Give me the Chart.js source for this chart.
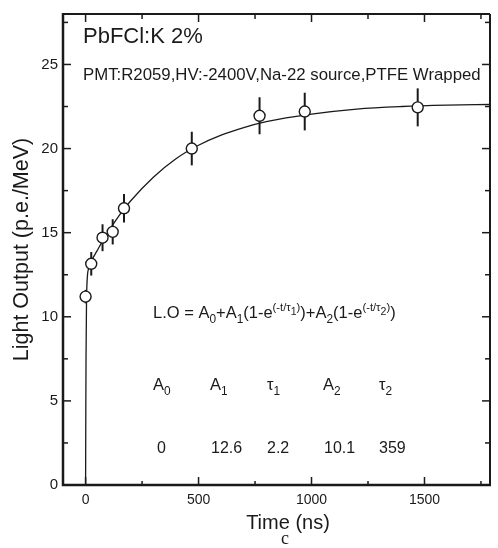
<!DOCTYPE html>
<html>
<head>
<meta charset="utf-8">
<script src="https://cdn.jsdelivr.net/npm/chart.js@4/dist/chart.umd.min.js"></script>
<style>
  html, body { margin: 0; padding: 0; background: #fff; }
  #wrap { width: 498px; height: 548px; }
</style>
</head>
<body>
<div id="wrap"><canvas id="lightOutputChart"></canvas></div>
<script>
// Measured points (time in ns, light output in p.e./MeV, vertical error)
const pointTimes = [0, 25, 75, 120, 170, 470, 770, 970, 1470];
const pointOutput = [11.2, 13.15, 14.7, 15.05, 16.45, 20.0, 21.95, 22.2, 22.45];
const pointErrors = [0.4, 0.7, 0.8, 0.75, 0.85, 1.0, 1.1, 1.12, 1.13];

// Fit curve
const curveTimes = [0, 1, 2, 4, 8, 15, 25, 50, 75, 100, 150, 200, 300, 400, 500, 600, 700, 800, 1000, 1200, 1400, 1600, 1790];
const curveOutput = [0, 4.5, 7.7, 10.8, 12.4, 12.9, 13.3, 13.9, 14.5, 15.05, 16.05, 16.9, 18.3, 19.4, 20.2, 20.8, 21.25, 21.6, 22.05, 22.35, 22.5, 22.58, 22.62];

// Tick labels
const xMajorTicks = [0, 500, 1000, 1500];
const xMinorTicks = [250, 750, 1250, 1750];
const yMajorTicks = [0, 5, 10, 15, 20, 25];
const yMinorTicks = [2.5, 7.5, 12.5, 17.5, 22.5, 27.5];

// Fit parameters shown in the plot
const paramNames = [['A', '0'], ['A', '1'], ['\u03c4', '1'], ['A', '2'], ['\u03c4', '2']];
const paramValues = ['0', '12.6', '2.2', '10.1', '359'];

const plotFont = '"Liberation Sans", Arial, Helvetica, sans-serif';
const ink = '#1a1a1a';

function drawRich(ctx, x, y, parts, size) {
    parts.forEach(([txt, kind]) => {
        let s = size, dy = 0;
        if (kind === 'sub') { s = size * 0.72; dy = size * 0.3; }
        if (kind === 'sup') { s = size * 0.68; dy = -size * 0.42; }
        if (kind === 'supsub') { s = size * 0.64; dy = -size * 0.2; }
        ctx.font = `${s}px ${plotFont}`;
        ctx.fillText(txt, x, y + dy);
        x += ctx.measureText(txt).width;
    });
}

const decorPlugin = {
    id: 'decor',
    beforeDatasetDraw(chart, args) {
        if (args.index !== 0) return;
        const ctx = chart.ctx;
        const xs = chart.scales.x, ys = chart.scales.y;
        ctx.save();
        ctx.strokeStyle = ink;
        ctx.lineWidth = 2;
        pointTimes.forEach((t, i) => {
            const px = xs.getPixelForValue(t);
            ctx.beginPath();
            ctx.moveTo(px, ys.getPixelForValue(pointOutput[i] - pointErrors[i]));
            ctx.lineTo(px, ys.getPixelForValue(pointOutput[i] + pointErrors[i]));
            ctx.stroke();
        });
        ctx.restore();
    },
    afterDraw(chart) {
        const ctx = chart.ctx;
        const {left, right, top, bottom} = chart.chartArea;
        const xs = chart.scales.x, ys = chart.scales.y;
        ctx.save();
        ctx.strokeStyle = ink;

        // frame
        ctx.lineWidth = 2;
        ctx.beginPath();
        ctx.moveTo(left, top); ctx.lineTo(right, top);
        ctx.moveTo(right, top); ctx.lineTo(right, bottom);
        ctx.stroke();
        ctx.lineWidth = 2.5;
        ctx.beginPath();
        ctx.moveTo(left, top - 1); ctx.lineTo(left, bottom);
        ctx.lineTo(right + 1, bottom);
        ctx.stroke();

        // inward ticks
        ctx.lineWidth = 1.5;
        const tick = (x1, y1, x2, y2) => { ctx.beginPath(); ctx.moveTo(x1, y1); ctx.lineTo(x2, y2); ctx.stroke(); };
        xMajorTicks.forEach(v => { const p = xs.getPixelForValue(v); tick(p, bottom, p, bottom - 8); tick(p, top, p, top + 8); });
        xMinorTicks.forEach(v => { const p = xs.getPixelForValue(v); tick(p, bottom, p, bottom - 4); tick(p, top, p, top + 5); });
        yMajorTicks.forEach(v => { const p = ys.getPixelForValue(v); tick(left, p, left + 8, p); tick(right, p, right - 8, p); });
        yMinorTicks.forEach(v => { const p = ys.getPixelForValue(v); tick(left, p, left + 5, p); tick(right, p, right - 5, p); });

        // texts
        ctx.fillStyle = ink;
        ctx.textAlign = 'left';
        ctx.textBaseline = 'alphabetic';
        ctx.font = `22px ${plotFont}`;
        ctx.fillText('PbFCl:K 2%', 83, 43);
        ctx.font = `16.8px ${plotFont}`;
        ctx.fillText('PMT:R2059,HV:-2400V,Na-22 source,PTFE Wrapped', 83, 80);

        drawRich(ctx, 153, 318, [
            ['L.O = A', ''], ['0', 'sub'], ['+A', ''], ['1', 'sub'], ['(1-e', ''],
            ['(-t/\u03c4', 'sup'], ['1', 'supsub'], [')', 'sup'], [')+A', ''], ['2', 'sub'],
            ['(1-e', ''], ['(-t/\u03c4', 'sup'], ['2', 'supsub'], [')', 'sup'], [')', '']
        ], 16.5);

        const colX = [153, 210, 267, 323, 379];
        paramNames.forEach(([sym, idx], i) => {
            drawRich(ctx, colX[i], 390, [[sym, ''], [idx, 'sub']], 16.5);
        });
        ctx.font = `16px ${plotFont}`;
        const valX = [157, 211, 267, 324, 379];
        paramValues.forEach((v, i) => ctx.fillText(v, valX[i], 453));

        ctx.textAlign = 'center';
        ctx.textBaseline = 'middle';
        ctx.font = `20px ${plotFont}`;
        ctx.fillText('Time (ns)', 288, 523);
        ctx.font = `18px "Liberation Serif", "Times New Roman", serif`;
        ctx.fillText('c', 285, 539);
        ctx.restore();
    }
};

new Chart(document.getElementById('lightOutputChart'), {
    type: 'scatter',
    data: {
        datasets: [{
            label: 'Measured',
            data: pointTimes.map((t, i) => ({x: t, y: pointOutput[i]})),
            pointStyle: 'circle',
            pointRadius: 5.5,
            pointBackgroundColor: '#fff',
            pointBorderColor: ink,
            pointBorderWidth: 1.4,
            showLine: false,
        }, {
            label: 'Fit',
            data: curveTimes.map((t, i) => ({x: t, y: curveOutput[i]})),
            showLine: true,
            borderColor: ink,
            borderWidth: 1.3,
            pointRadius: 0,
            cubicInterpolationMode: 'monotone',
        }]
    },
    options: {
        responsive: true,
        maintainAspectRatio: false,
        animation: false,
        layout: { padding: { left: 0, right: 8, top: 10, bottom: 0 } },
        scales: {
            x: {
                type: 'linear',
                min: -100,
                max: 1790,
                afterBuildTicks: (s) => { s.ticks = xMajorTicks.map(v => ({value: v})); },
                afterFit: (s) => { s.height = 63; },
                grid: { display: false, drawTicks: false },
                border: { display: false },
                ticks: {
                    color: ink,
                    padding: 7,
                    font: { family: plotFont, size: 14 },
                    callback: (v) => String(v)
                },
            },
            y: {
                min: 0,
                max: 28,
                afterBuildTicks: (s) => { s.ticks = yMajorTicks.map(v => ({value: v})); },
                afterFit: (s) => { s.width = 63; },
                grid: { display: false, drawTicks: false },
                border: { display: false },
                ticks: { color: ink, padding: 5, font: { family: plotFont, size: 15 } },
                title: {
                    display: true,
                    text: 'Light Output (p.e./MeV)',
                    color: ink,
                    padding: { top: 9, bottom: 0 },
                    font: { family: plotFont, size: 21.5 }
                }
            }
        },
        plugins: {
            legend: { display: false },
            tooltip: { enabled: false }
        }
    },
    plugins: [decorPlugin]
});
</script>
</body>
</html>
